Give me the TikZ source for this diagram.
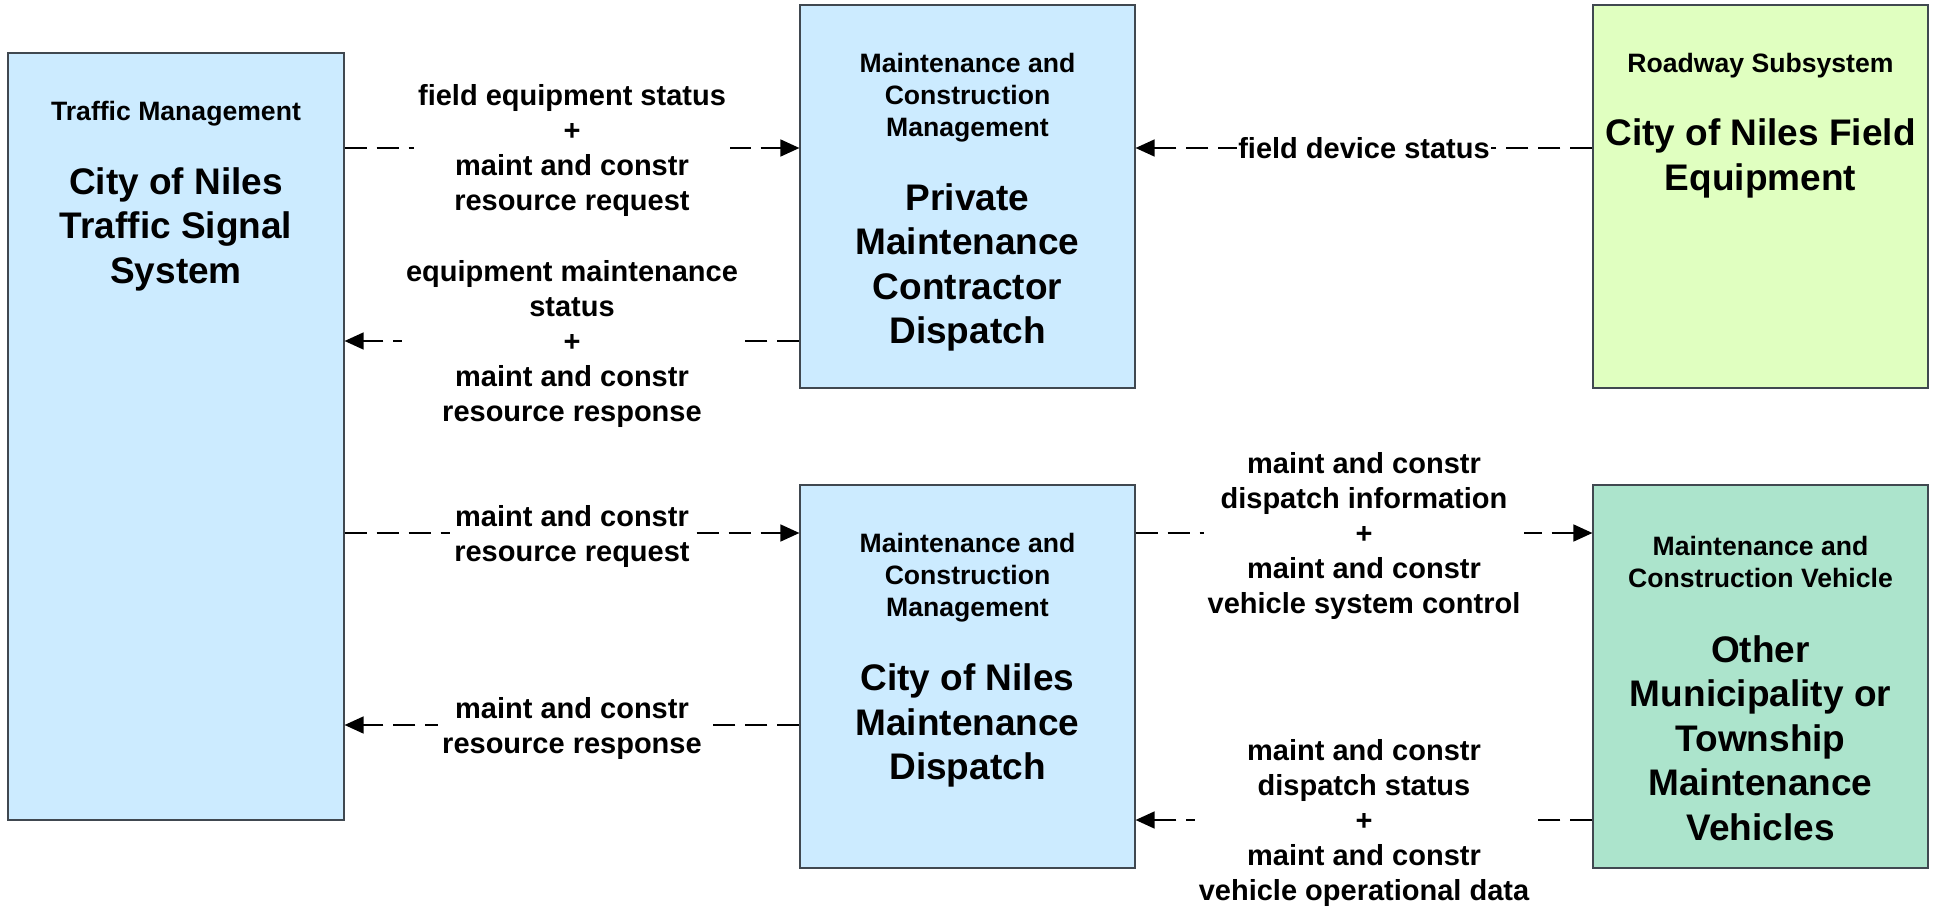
\documentclass[tikz,border=0pt]{standalone}
\usepackage{fontspec}
\setmainfont{Liberation Sans}
\usetikzlibrary{arrows.meta}
\definecolor{bluefill}{RGB}{204,235,255}
\definecolor{greenfill}{RGB}{224,255,192}
\definecolor{tealfill}{RGB}{172,228,204}
\definecolor{edgegray}{RGB}{64,72,80}
\tikzset{
  box/.style={draw=edgegray, line width=1.2pt, inner sep=0pt},
  hdr/.style={align=center, inner sep=0pt, font=\bfseries\fontsize{26.6}{32}\selectfont},
  ttl/.style={align=center, inner sep=0pt, font=\bfseries\fontsize{37}{44.5}\selectfont},
  lbl/.style={align=center, fill=white, inner xsep=4pt, inner ysep=0pt, yshift=-3pt, font=\bfseries\fontsize{29}{35}\selectfont},
  flow/.style={line width=1.6pt, dash pattern=on 22pt off 10pt, -{Triangle[length=19pt,width=17pt]}}
}
\begin{document}
\begin{tikzpicture}[x=1pt,y=-1pt]
\useasboundingbox (0,0) rectangle (1939,907);
% boxes
\node[box, fill=bluefill, minimum width=336pt, minimum height=767pt] (tm) at (176,436.5) {};
\node[box, fill=bluefill, minimum width=335pt, minimum height=383pt] (m1) at (967.5,196.5) {};
\node[box, fill=greenfill, minimum width=335pt, minimum height=383pt] (r1) at (1760.5,196.5) {};
\node[box, fill=bluefill, minimum width=335pt, minimum height=383pt] (m2) at (967.5,676.5) {};
\node[box, fill=tealfill, minimum width=335pt, minimum height=383pt] (r2) at (1760.5,676.5) {};
% box texts
\node[hdr] (tmh) at (176,114) {Traffic Management};
\node[ttl] (tmt) at (176,229) {City of Niles\\Traffic Signal\\System};
\node[hdr] (m1h) at (967.5,98) {Maintenance and\\Construction\\Management};
\node[ttl] (m1t) at (967.5,267.5) {Private\\Maintenance\\Contractor\\Dispatch};
\node[hdr] (r1h) at (1760.5,66) {Roadway Subsystem};
\node[ttl] (r1t) at (1760.5,158.5) {City of Niles Field\\Equipment};
\node[hdr] (m2h) at (967.5,578) {Maintenance and\\Construction\\Management};
\node[ttl] (m2t) at (967.5,725.5) {City of Niles\\Maintenance\\Dispatch};
\node[hdr] (r2h) at (1760.5,562) {Maintenance and\\Construction Vehicle};
\node[ttl] (r2t) at (1760.5,738) {Other\\Municipality or\\Township\\Maintenance\\Vehicles};
% flows
\draw[flow] (tm.east |- 0,148) -- node[lbl] (l1) {field equipment status\\+\\maint and constr\\resource request} (m1.west |- 0,148);
\draw[flow] (m1.west |- 0,341) -- node[lbl] (l2) {equipment maintenance\\status\\+\\maint and constr\\resource response} (tm.east |- 0,341);
\draw[flow] (r1.west |- 0,148) -- node[lbl, inner xsep=1pt, yshift=3pt] (l3) {field device status} (m1.east |- 0,148);
\draw[flow] (tm.east |- 0,533) -- node[lbl] (l4) {maint and constr\\resource request} (m2.west |- 0,533);
\draw[flow] (m2.west |- 0,725) -- node[lbl] (l5) {maint and constr\\resource response} (tm.east |- 0,725);
\draw[flow] (m2.east |- 0,533) -- node[lbl] (l6) {maint and constr\\dispatch information\\+\\maint and constr\\vehicle system control} (r2.west |- 0,533);
\draw[flow] (r2.west |- 0,820) -- node[lbl] (l7) {maint and constr\\dispatch status\\+\\maint and constr\\vehicle operational data} (m2.east |- 0,820);
\end{tikzpicture}
\end{document}
